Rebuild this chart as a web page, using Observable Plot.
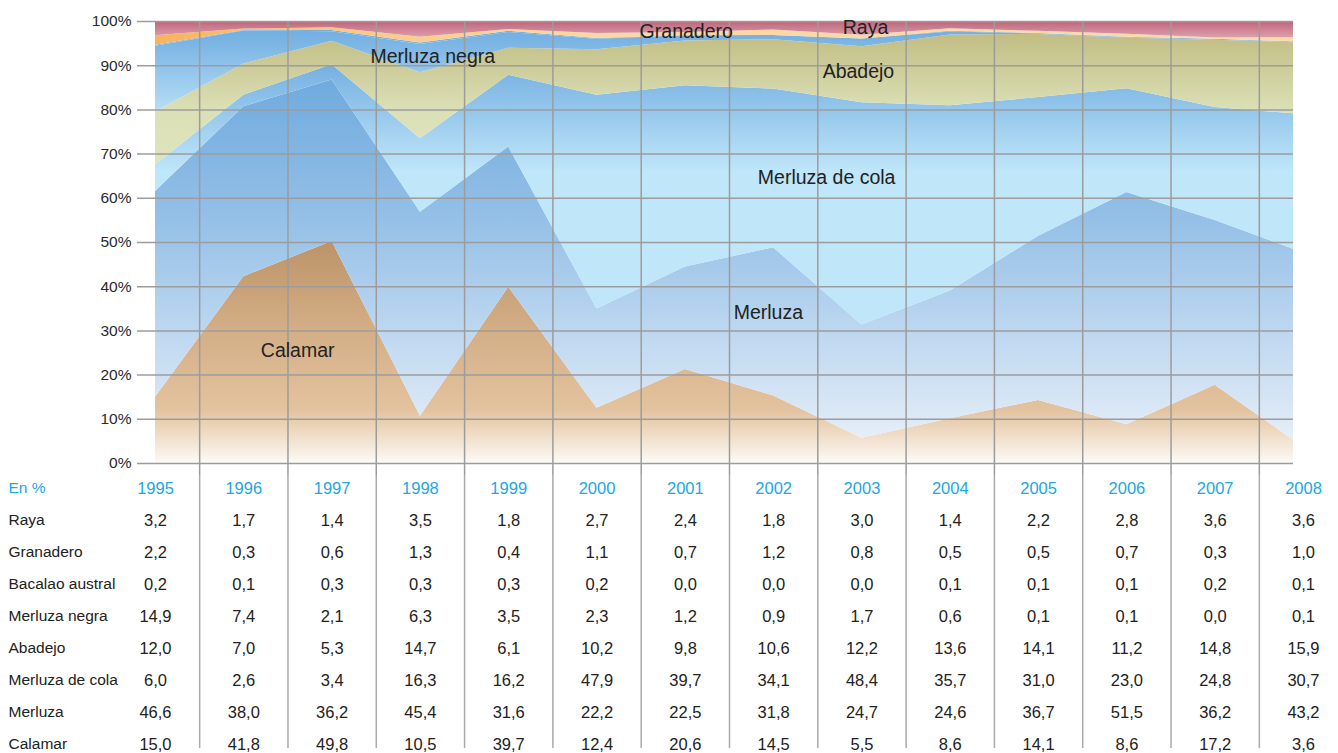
<!DOCTYPE html>
<html>
<head>
<meta charset="utf-8">
<script src="https://cdn.jsdelivr.net/npm/d3@7"></script>
<script src="https://cdn.jsdelivr.net/npm/@observablehq/plot@0.6"></script>
<style>
  body { margin: 0; background: #fff; }
  #chart svg { display: block; }
</style>
</head>
<body>
<div id="chart"></div>
<script>
// ---------------- DATA ----------------
const years = [1995, 1996, 1997, 1998, 1999, 2000, 2001, 2002, 2003, 2004, 2005, 2006, 2007, 2008];

const raya           = [3.2, 1.7, 1.4, 3.5, 1.8, 2.7, 2.4, 1.8, 3.0, 1.4, 2.2, 2.8, 3.6, 3.6];
const granadero      = [2.2, 0.3, 0.6, 1.3, 0.4, 1.1, 0.7, 1.2, 0.8, 0.5, 0.5, 0.7, 0.3, 1.0];
const bacalaoAustral = [0.2, 0.1, 0.3, 0.3, 0.3, 0.2, 0.0, 0.0, 0.0, 0.1, 0.1, 0.1, 0.2, 0.1];
const merluzaNegra   = [14.9, 7.4, 2.1, 6.3, 3.5, 2.3, 1.2, 0.9, 1.7, 0.6, 0.1, 0.1, 0.0, 0.1];
const abadejo        = [12.0, 7.0, 5.3, 14.7, 6.1, 10.2, 9.8, 10.6, 12.2, 13.6, 14.1, 11.2, 14.8, 15.9];
const merluzaDeCola  = [6.0, 2.6, 3.4, 16.3, 16.2, 47.9, 39.7, 34.1, 48.4, 35.7, 31.0, 23.0, 24.8, 30.7];
const merluza        = [46.6, 38.0, 36.2, 45.4, 31.6, 22.2, 22.5, 31.8, 24.7, 24.6, 36.7, 51.5, 36.2, 43.2];
const calamar        = [15.0, 41.8, 49.8, 10.5, 39.7, 12.4, 20.6, 14.5, 5.5, 8.6, 14.1, 8.6, 17.2, 3.6];

// stacking order, bottom to top
const species = ["Calamar", "Merluza", "Merluza de cola", "Abadejo", "Merluza negra", "Bacalao austral", "Granadero", "Raya"];
// table row order
const headerLabel = "En %";
const tableRows = ["Raya", "Granadero", "Bacalao austral", "Merluza negra", "Abadejo", "Merluza de cola", "Merluza", "Calamar"];

const seriesValues = {
  "Raya": raya,
  "Granadero": granadero,
  "Bacalao austral": bacalaoAustral,
  "Merluza negra": merluzaNegra,
  "Abadejo": abadejo,
  "Merluza de cola": merluzaDeCola,
  "Merluza": merluza,
  "Calamar": calamar
};

// in-chart series labels (anchor in data units: year, share of total)
const chartLabels = [
  {name: "Calamar",         year: 1996.61, share: 0.256},
  {name: "Merluza",         year: 2001.94, share: 0.342},
  {name: "Merluza de cola", year: 2002.60, share: 0.647},
  {name: "Abadejo",         year: 2002.96, share: 0.887},
  {name: "Merluza negra",   year: 1998.14, share: 0.921},
  {name: "Granadero",       year: 2001.01, share: 0.977},
  {name: "Raya",            year: 2003.04, share: 0.986}
];

// ---------------- STYLE ----------------
const cyan = "#22a7e0";
const gridColor = "#9c9c9c";
const fontFamily = "'Liberation Sans', Arial, Helvetica, sans-serif";

// vertical gradients (stop positions in share units) or horizontal (in years)
const gradientStyles = {
  "Calamar":         {axis: "y", stops: [[0.52, "#bb9166"], [0.30, "#d3ae86"], [0.12, "#e3c39f"], [0.0, "#fdfaf6"]]},
  "Merluza":         {axis: "y", stops: [[0.90, "#6ca8dd"], [0.55, "#95c0e7"], [0.30, "#bdd7f0"], [0.10, "#dde9f6"], [0.0, "#f2f7fc"]]},
  "Merluza de cola": {axis: "y", stops: [[0.90, "#76b0e1"], [0.66, "#bfe6f9"], [0.0, "#bfe6f9"]]},
  "Abadejo":         {axis: "y", stops: [[0.97, "#c2bd84"], [0.80, "#dbe0b6"], [0.60, "#dfe6c0"]]},
  "Merluza negra":   {axis: "y", stops: [[0.97, "#74b0e2"], [0.78, "#bde2f7"], [0.60, "#c0e4f8"]]},
  "Bacalao austral": {axis: "y", stops: [[0.97, "#74b0e2"], [0.78, "#bde2f7"], [0.60, "#c0e4f8"]]},
  "Granadero":       {axis: "x", stops: [[1995, "#f9b35d"], [1997.5, "#fcca88"], [2000, "#fdd7a2"], [2008, "#fddaa8"]]},
  "Raya":            {axis: "y", stops: [[1.0, "#c0647a"], [0.95, "#e4b6be"]]}
};
const gradId = s => "grad-" + species.indexOf(s);

// ---------------- BUILD ----------------
const longData = species.flatMap(s => years.map((yr, i) => ({year: yr, species: s, value: seriesValues[s][i]})));

function gradientDefs(index, scales) {
  const defs = d3.create("svg:defs");
  for (const s of species) {
    const g = gradientStyles[s];
    const first = g.stops[0][0], last = g.stops[g.stops.length - 1][0];
    const lg = defs.append("linearGradient").attr("id", gradId(s)).attr("gradientUnits", "userSpaceOnUse");
    if (g.axis === "x") {
      lg.attr("x1", scales.x(first)).attr("x2", scales.x(last)).attr("y1", 0).attr("y2", 0);
    } else {
      lg.attr("x1", 0).attr("x2", 0).attr("y1", scales.y(first)).attr("y2", scales.y(last));
    }
    for (const [pos, color] of g.stops) {
      lg.append("stop").attr("offset", (pos - first) / (last - first)).attr("stop-color", color);
    }
  }
  return defs.node();
}

const xConfig = {domain: [years[0], years[years.length - 1]], range: [155, 1303], axis: null};

const chart = Plot.plot({
  width: 1338,
  height: 475,
  marginTop: 21,
  marginBottom: 12,
  marginLeft: 155,
  marginRight: 45,
  style: {fontFamily, fontSize: "15.5px", color: "#2a2a2a", background: "transparent"},
  x: xConfig,
  y: {domain: [0, 1], ticks: 10, tickFormat: d => Math.round(d * 100) + "%", tickSize: 0, tickPadding: 24, label: null},
  color: {type: "identity"},
  marks: [
    gradientDefs,
    Plot.areaY(longData, {
      x: "year", y: "value", z: "species",
      fill: d => `url(#${gradId(d.species)})`,
      offset: "normalize", order: null, clip: true
    }),
    Plot.ruleY(d3.range(0, 11).map(k => k / 10), {stroke: gridColor, strokeWidth: 1.5, insetLeft: -18}),
    Plot.ruleX(years.slice(0, -1), {x: d => d + 0.5, stroke: gridColor, strokeWidth: 1.5, insetBottom: -12}),
    Plot.text(chartLabels, {x: "year", y: "share", text: "name", fontSize: 19.5, fill: "#222"})
  ]
});

const fmt = v => v.toFixed(1).replace(".", ",");
const cells = tableRows.flatMap(r => years.map((yr, i) => ({row: r, year: yr, value: seriesValues[r][i]})));

const table = Plot.plot({
  width: 1338,
  height: 278,
  marginTop: 12.5,
  marginBottom: 9.5,
  marginLeft: 8,
  marginRight: 0,
  style: {fontFamily, fontSize: "15.5px", color: "#2a2a2a", background: "transparent"},
  x: xConfig,
  y: {type: "point", domain: [headerLabel, ...tableRows], padding: 0, axis: null},
  marks: [
    Plot.ruleX(years.slice(0, -1), {x: d => d + 0.5, stroke: "#aaa", strokeWidth: 1.5, insetTop: -12.5, insetBottom: -4.5}),
    Plot.text([headerLabel, ...tableRows], {y: d => d, frameAnchor: "left", textAnchor: "start", fontSize: 15.5,
      fill: d => d === headerLabel ? cyan : "#222"}),
    Plot.text(years, {x: d => d, y: () => headerLabel, text: d => String(d), fill: cyan, fontSize: 16.5}),
    Plot.text(cells, {x: "year", y: "row", text: d => fmt(d.value), fill: "#222", fontSize: 16.5})
  ]
});

document.getElementById("chart").append(chart, table);
</script>
</body>
</html>
